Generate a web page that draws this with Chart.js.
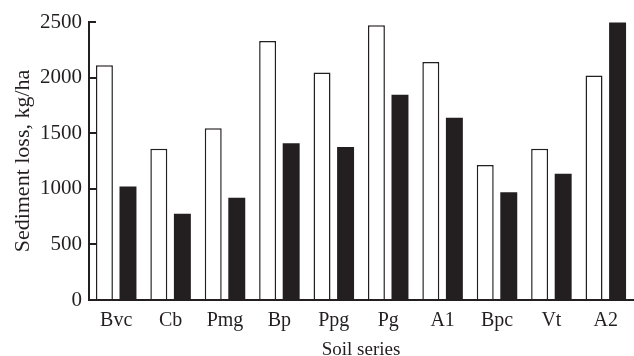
<!DOCTYPE html>
<html lang="en">
<head>
  <meta charset="UTF-8">
  <title>Sediment loss by soil series</title>
  <script src="https://cdn.jsdelivr.net/npm/chart.js"></script>
</head>
<body style="margin:0;background:#fff;">
  <canvas id="lossChart" width="634" height="356" style="display:block;"></canvas>
  <script>
    // Soil series and the two measured series (kg/ha)
    const soilSeries = ['Bvc', 'Cb', 'Pmg', 'Bp', 'Ppg', 'Pg', 'A1', 'Bpc', 'Vt', 'A2'];
    const openBars = [2110, 1360, 1545, 2330, 2045, 2470, 2140, 1215, 1360, 2020];
    const solidBars = [1020, 775, 920, 1410, 1375, 1845, 1640, 970, 1135, 2495];
    const yTickStep = 250;
    const yMax = 2500;

    const ink = '#231f20';
    const serif = "'Liberation Serif', 'Times New Roman', serif";

    new Chart(document.getElementById('lossChart').getContext('2d'), {
      type: 'bar',
      data: {
        labels: soilSeries,
        datasets: [
          {
            data: openBars,
            backgroundColor: '#fff',
            borderColor: ink,
            borderWidth: 1.5,
            borderSkipped: 'start'
          },
          {
            data: solidBars,
            backgroundColor: ink,
            borderWidth: 0
          }
        ]
      },
      options: {
        responsive: false,
        animation: false,
        devicePixelRatio: 1,
        layout: { padding: { top: 22, right: 1, left: 10, bottom: -5 } },
        categoryPercentage: 0.866,
        barPercentage: 0.72,
        plugins: {
          legend: { display: false },
          tooltip: { enabled: false }
        },
        scales: {
          x: {
            grid: { display: false },
            border: { color: ink, width: 2 },
            ticks: { color: ink, font: { family: serif, size: 20 }, padding: 1 },
            title: {
              display: true,
              text: 'Soil series',
              color: ink,
              font: { family: serif, size: 19 },
              padding: { top: 0, bottom: 0 }
            },
            afterFit: s => { s.height = 61; }
          },
          y: {
            min: 0,
            max: yMax,
            grid: { drawOnChartArea: false, drawTicks: true, tickLength: -7, color: ink, lineWidth: 2 },
            border: { color: ink, width: 2 },
            ticks: {
              stepSize: yTickStep,
              color: ink,
              padding: 14,
              font: { family: serif, size: 21 },
              callback: v => (v % 500 === 0 ? v : '')
            },
            title: {
              display: true,
              text: 'Sediment loss, kg/ha',
              color: ink,
              font: { family: serif, size: 22 },
              padding: { top: 0, bottom: 1 }
            },
            afterFit: s => { s.width = 79; s.paddingTop = 0; }
          }
        }
      }
    });
  </script>
</body>
</html>
